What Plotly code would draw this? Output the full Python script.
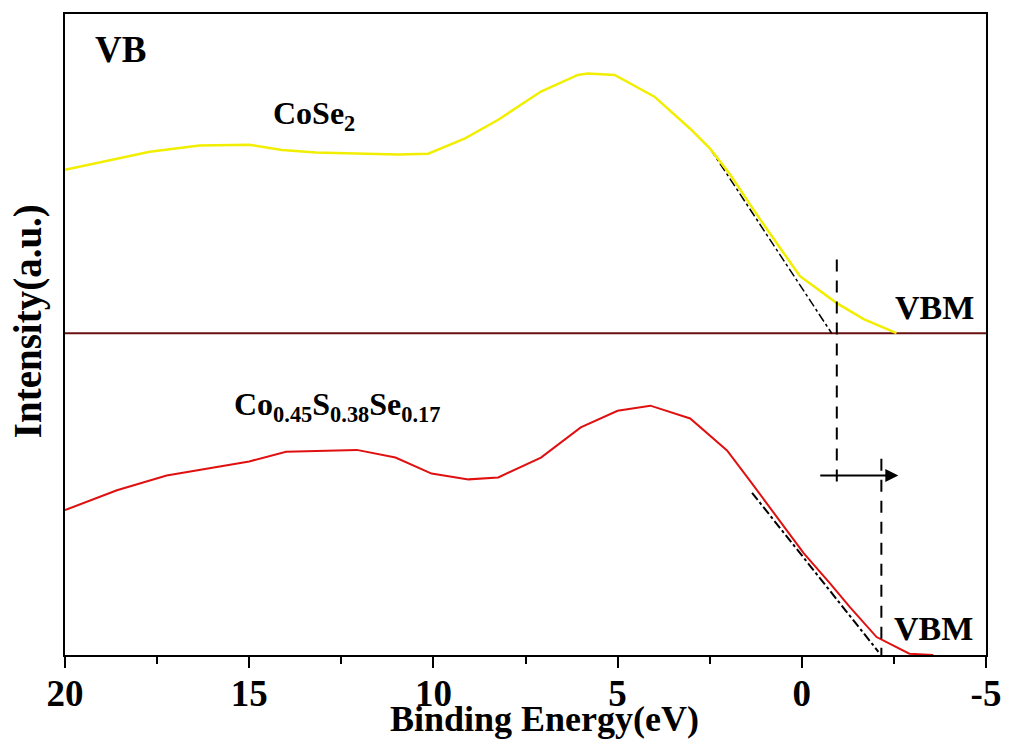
import plotly.graph_objects as go

# ---- data ----
cose2_energy = [20.0, 17.70, 16.35, 15.0, 14.11, 13.19, 11.84, 10.95, 10.14, 9.14, 8.24, 7.08,
                6.08, 5.81, 5.08, 4.0, 3.03, 2.49, 1.95, 1.22, 0.59, 0.05, -0.95, -1.68, -2.57]
cose2_intensity = [75.7, 78.5, 79.5, 79.6, 78.8, 78.4, 78.2, 78.1, 78.2, 80.6, 83.5, 87.9,
                   90.5, 90.7, 90.5, 87.1, 82.1, 79.0, 75.0, 68.7, 63.5, 59.1, 54.9, 52.4, 50.2]

csse_energy = [20.0, 18.59, 17.24, 16.0, 15.0, 14.0, 12.76, 12.08, 11.03, 10.05, 9.05, 8.24,
               7.08, 6.0, 5.0, 4.11, 3.03, 2.03, 1.41, 0.68, -0.05, -0.76, -1.30, -2.03, -2.92, -3.57]
csse_intensity = [22.6, 25.7, 28.0, 29.2, 30.2, 31.7, 31.9, 32.0, 30.8, 28.3, 27.4, 27.7,
                  30.8, 35.5, 38.1, 38.9, 36.9, 31.9, 27.2, 21.5, 15.9, 11.2, 7.5, 2.8, 0.2, 0.0]

baseline_energy = [20.0, -5.0]
baseline_intensity = [50.2, 50.2]

cose2_tangent_energy = [2.49, -0.81]
cose2_tangent_intensity = [79.0, 50.2]
csse_tangent_energy = [1.35, -2.08]
csse_tangent_intensity = [25.3, 0.5]

cose2_vbm_energy = [-0.95, -0.95]
cose2_vbm_intensity = [61.7, 26.1]
csse_vbm_energy = [-2.16, -2.16]
csse_vbm_intensity = [30.6, -2.0]

arrow_start = (-0.46, 28.0)
arrow_end = (-2.62, 28.0)

tick_vals = [20, 15, 10, 5, 0, -5]
tick_text = ["20", "15", "10", "5", "0", "-5"]

FONT = "Liberation Serif, Times New Roman, serif"

fig = go.Figure()

fig.add_trace(go.Scatter(x=baseline_energy, y=baseline_intensity, mode="lines",
                         line=dict(color="#6b1010", width=2), showlegend=False))
fig.add_trace(go.Scatter(x=cose2_tangent_energy, y=cose2_tangent_intensity, mode="lines",
                         line=dict(color="black", width=1.5, dash="dashdot"), showlegend=False))
fig.add_trace(go.Scatter(x=csse_tangent_energy, y=csse_tangent_intensity, mode="lines",
                         line=dict(color="black", width=2, dash="dashdot"), showlegend=False))
fig.add_trace(go.Scatter(x=cose2_energy, y=cose2_intensity, mode="lines",
                         line=dict(color="#f2ee00", width=2.5), showlegend=False))
fig.add_trace(go.Scatter(x=csse_energy, y=csse_intensity, mode="lines",
                         line=dict(color="#e01010", width=2), showlegend=False))
fig.add_trace(go.Scatter(x=cose2_vbm_energy, y=cose2_vbm_intensity, mode="lines",
                         line=dict(color="black", width=2, dash="12px,9px"), showlegend=False))
fig.add_trace(go.Scatter(x=csse_vbm_energy, y=csse_vbm_intensity, mode="lines",
                         line=dict(color="black", width=2, dash="12px,9px"), showlegend=False))

annotations = [
    dict(x=arrow_end[0], y=arrow_end[1], ax=arrow_start[0], ay=arrow_start[1],
         xref="x", yref="y", axref="x", ayref="y", showarrow=True, text="",
         arrowhead=2, arrowsize=1.3, arrowwidth=2, arrowcolor="black"),
    dict(x=18.49, y=94.4, xref="x", yref="y", text="<b>VB</b>", showarrow=False,
         font=dict(family=FONT, size=37, color="black")),
    dict(x=13.24, y=84.1, xref="x", yref="y", text="<b>CoSe<sub>2</sub></b>", showarrow=False,
         font=dict(family=FONT, size=32, color="black")),
    dict(x=12.61, y=38.8, xref="x", yref="y",
         text="<b>Co<sub>0.45</sub>S<sub>0.38</sub>Se<sub>0.17</sub></b>", showarrow=False,
         font=dict(family=FONT, size=32, color="black")),
    dict(x=-3.59, y=54.2, xref="x", yref="y", text="<b>VBM</b>", showarrow=False,
         font=dict(family=FONT, size=34, color="black")),
    dict(x=-3.57, y=4.1, xref="x", yref="y", text="<b>VBM</b>", showarrow=False,
         font=dict(family=FONT, size=34, color="black")),
    dict(x=-0.04, y=0.521, xref="paper", yref="paper", xanchor="center", yanchor="middle",
         text="<b>Intensity(a.u.)</b>",
         textangle=-90, showarrow=False, font=dict(family=FONT, size=39, color="black")),
    dict(x=0.521, y=-0.1, xref="paper", yref="paper", xanchor="center", yanchor="middle",
         text="<b>Binding Energy(eV)</b>",
         showarrow=False, font=dict(family=FONT, size=36, color="black")),
]

fig.update_layout(
    width=1013, height=751,
    margin=dict(l=65, r=19, t=12, b=96),
    paper_bgcolor="white", plot_bgcolor="white",
    showlegend=False,
    annotations=annotations,
    xaxis=dict(range=[20, -5], tickvals=tick_vals, ticktext=tick_text,
               ticks="outside", ticklen=11, tickwidth=2, tickcolor="black",
               ticklabelstandoff=-6,
               minor=dict(dtick=2.5, ticks="outside", ticklen=7, tickwidth=2, tickcolor="black"),
               showline=True, linecolor="black", linewidth=2, mirror=True,
               showgrid=False, zeroline=False,
               tickfont=dict(family=FONT, size=37, color="black", weight="bold")),
    yaxis=dict(range=[0, 100], showticklabels=False, ticks="",
               showline=True, linecolor="black", linewidth=2, mirror=True,
               showgrid=False, zeroline=False),
)

fig.write_html("out.html", config={"displayModeBar": False},
               post_script="document.body.style.margin='0';document.body.style.overflow='hidden';")
